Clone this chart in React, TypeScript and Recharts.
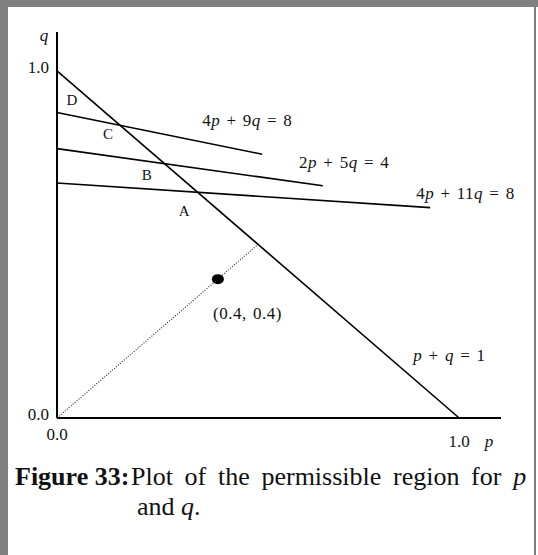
import React from "react";
import { ComposedChart, Line, Scatter, XAxis, YAxis, Label } from "recharts";

const SERIF = '"Liberation Serif", "Times New Roman", serif';
const INK = "#111";

// p + q = 1
const boundary = [{ p: 0, q: 1 }, { p: 1, q: 0 }];
// constraint lines, as drawn (schematic)
const line4p9q = [{ p: 0, q: 0.88 }, { p: 0.51, q: 0.76 }];
const line2p5q = [{ p: 0, q: 0.776 }, { p: 0.661, q: 0.669 }];
const line4p11q = [{ p: 0, q: 0.677 }, { p: 0.928, q: 0.606 }];
// ray through p = q
const diagonal = [{ p: 0, q: 0 }, { p: 0.5, q: 0.5 }];
const equalPoint = [{ p: 0.4, q: 0.4 }];

const regionLabels = [
  { p: 0.037, q: 0.916, text: "D" },
  { p: 0.127, q: 0.818, text: "C" },
  { p: 0.223, q: 0.7, text: "B" },
  { p: 0.316, q: 0.597, text: "A" },
];

const equationLabels = [
  { p: 0.361, q: 0.859, text: "4p + 9q = 8" },
  { p: 0.602, q: 0.738, text: "2p + 5q = 4" },
  { p: 0.893, q: 0.649, text: "4p + 11q = 8" },
  { p: 0.886, q: 0.182, text: "p + q = 1" },
  { p: 0.388, q: 0.303, text: "(0.4, 0.4)" },
];

const xTicks = [0, 1];
const yTicks = [0, 1];

// p and q are set in italics
function mathText(s: string) {
  return s
    .split(/([pq])/)
    .filter(Boolean)
    .map((part, i) =>
      part === "p" || part === "q" ? (
        <tspan key={i} fontStyle="italic">{part}</tspan>
      ) : (
        <tspan key={i}>{part}</tspan>
      )
    );
}

const RegionLabel = (props: any) => (
  <text
    x={props.cx}
    y={props.cy}
    dy="0.35em"
    textAnchor="middle"
    fontFamily={SERIF}
    fontSize={15}
    fill={INK}
  >
    {props.payload.text}
  </text>
);

const EquationLabel = (props: any) => (
  <text
    x={props.cx}
    y={props.cy}
    dy="0.35em"
    textAnchor="start"
    fontFamily={SERIF}
    fontSize={17}
    letterSpacing={0.5}
    wordSpacing={1.5}
    fill={INK}
  >
    {mathText(props.payload.text)}
  </text>
);

const Dot = (props: any) => <ellipse cx={props.cx} cy={props.cy} rx={6} ry={5} fill="#000" />;

const XTick = (props: any) => {
  const { x, y, payload } = props;
  const drop = payload.value === 1 ? 29 : 22;
  return (
    <text x={x} y={y + drop} textAnchor="middle" fontFamily={SERIF} fontSize={17} fill={INK}>
      {payload.value.toFixed(1)}
    </text>
  );
};

const YTick = (props: any) => {
  const { x, y, payload } = props;
  return (
    <text x={x - 8} y={y + 2} textAnchor="end" fontFamily={SERIF} fontSize={17} fill={INK}>
      {payload.value.toFixed(1)}
    </text>
  );
};

const AxisName = (name: string, dx: number, dy: number) => (props: any) => {
  const vb = props.viewBox;
  return (
    <text
      x={vb.x + dx}
      y={vb.y + dy}
      textAnchor="middle"
      fontFamily={SERIF}
      fontSize={17}
      fontStyle="italic"
      fill={INK}
    >
      {name}
    </text>
  );
};

export default function App() {
  return (
    <div
      style={{
        position: "absolute",
        left: 0,
        top: 0,
        width: 538,
        height: 555,
        background: "#fff",
        overflow: "hidden",
      }}
    >
      <div style={{ position: "absolute", left: 0, top: 0, width: 538, height: 7, background: "#808080" }} />
      <div style={{ position: "absolute", left: 0, top: 0, width: 8, height: 555, background: "#808080" }} />
      <div style={{ position: "absolute", left: 534, top: 0, width: 2, height: 555, background: "#808080" }} />

      <div style={{ position: "absolute", left: 0, top: 0 }}>
        <ComposedChart width={538} height={470} margin={{ top: 32, right: 37, bottom: 22, left: 0 }}>
          <XAxis
            type="number"
            dataKey="p"
            domain={[0, 1.104]}
            ticks={xTicks}
            tick={<XTick />}
            tickLine={false}
            tickSize={0}
            tickMargin={0}
            height={30}
            axisLine={{ stroke: "#000", strokeWidth: 2 }}
          >
            <Label content={AxisName("p", 432, 29)} />
          </XAxis>
          <YAxis
            type="number"
            dataKey="q"
            domain={[0, 1.112]}
            ticks={yTicks}
            tick={<YTick />}
            tickLine={false}
            tickSize={0}
            tickMargin={0}
            width={57}
            axisLine={{ stroke: "#000", strokeWidth: 2 }}
          >
            <Label content={AxisName("q", 44, 9)} />
          </YAxis>

          <Line data={boundary} dataKey="q" stroke="#000" strokeWidth={1.6} dot={false} isAnimationActive={false} />
          <Line data={line4p9q} dataKey="q" stroke="#000" strokeWidth={1.6} dot={false} isAnimationActive={false} />
          <Line data={line2p5q} dataKey="q" stroke="#000" strokeWidth={1.6} dot={false} isAnimationActive={false} />
          <Line data={line4p11q} dataKey="q" stroke="#000" strokeWidth={1.6} dot={false} isAnimationActive={false} />
          <Line
            data={diagonal}
            dataKey="q"
            stroke="#222"
            strokeWidth={1.1}
            strokeDasharray="1 1.6"
            dot={false}
            isAnimationActive={false}
          />

          <Scatter data={equalPoint} dataKey="q" shape={<Dot />} isAnimationActive={false} />
          <Scatter data={regionLabels} dataKey="q" shape={<RegionLabel />} isAnimationActive={false} />
          <Scatter data={equationLabels} dataKey="q" shape={<EquationLabel />} isAnimationActive={false} />
        </ComposedChart>
      </div>

      <svg width={538} height={555} style={{ position: "absolute", left: 0, top: 0, pointerEvents: "none" }}>
        <text x={15} y={485} fontFamily={SERIF} fontSize={26} fontWeight="bold" fill={INK}>
          Figure 33:
        </text>
        <text x={131} y={485} fontFamily={SERIF} fontSize={26} wordSpacing={5.2} fill={INK}>
          Plot of the permissible region for <tspan fontStyle="italic">p</tspan>
        </text>
        <text x={137} y={515} fontFamily={SERIF} fontSize={26} fill={INK}>
          and <tspan fontStyle="italic">q</tspan>.
        </text>
      </svg>
    </div>
  );
}
